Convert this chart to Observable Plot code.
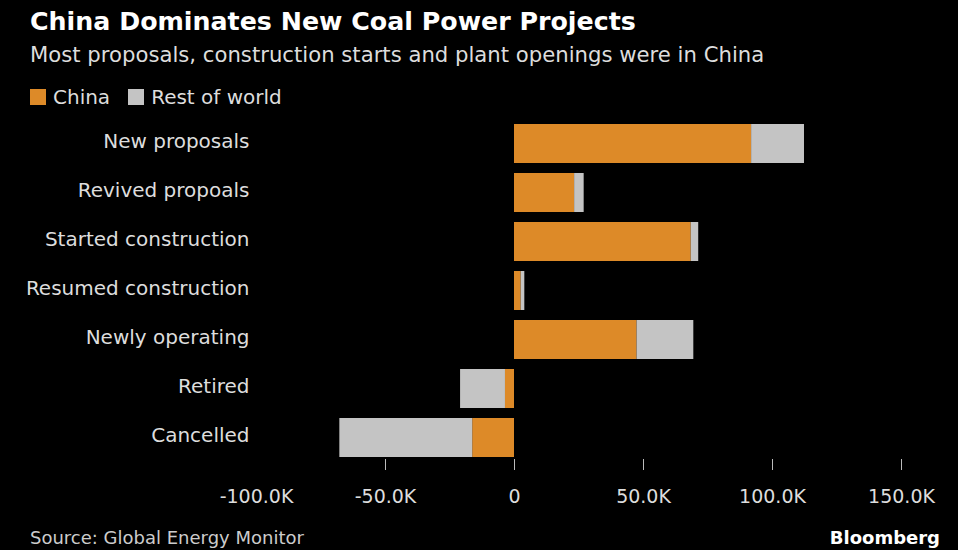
<!DOCTYPE html>
<html>
<head>
<meta charset="utf-8">
<script src="https://cdn.jsdelivr.net/npm/d3@7"></script>
<script src="https://cdn.jsdelivr.net/npm/@observablehq/plot@0.6"></script>
<style>
  html, body { margin: 0; padding: 0; background: #000; }
  body { width: 958px; height: 550px; overflow: hidden; font-family: "DejaVu Sans", sans-serif; color: #ddd; position: relative; }
  #title { position: absolute; left: 30px; top: 7px; font-size: 25.3px; font-weight: bold; color: #fff; white-space: nowrap; }
  #subtitle { position: absolute; left: 30px; top: 42px; font-size: 21.2px; color: #ddd; white-space: nowrap; }
  #legend { position: absolute; left: 30px; top: 85px; font-size: 20px; color: #ddd; display: flex; align-items: center; white-space: nowrap; }
  #legend .sw { display: inline-block; width: 16px; height: 16px; margin-right: 7px; }
  #legend .item { display: flex; align-items: center; margin-right: 18px; }
  #chart { position: absolute; left: 0; top: 112px; }
  #source { position: absolute; left: 30px; top: 527px; font-size: 18px; line-height: 21px; color: #ccc; white-space: nowrap; }
  #brand { position: absolute; right: 18px; top: 527px; font-size: 18px; line-height: 21px; font-weight: bold; color: #fff; }
</style>
</head>
<body>
<div id="title">China Dominates New Coal Power Projects</div>
<div id="subtitle">Most proposals, construction starts and plant openings were in China</div>
<div id="legend"></div>
<div id="chart"></div>
<div id="source">Source: Global Energy Monitor</div>
<div id="brand">Bloomberg</div>
<script>
const categories = ["New proposals", "Revived propoals", "Started construction", "Resumed construction", "Newly operating", "Retired", "Cancelled"];
const seriesNames = ["China", "Rest of world"];
const seriesColors = ["#dd8a28", "#c4c4c4"];
const chinaValues = [91900, 23300, 68500, 2600, 47500, -3500, -16200];
const restOfWorldValues = [20500, 3700, 2900, 1400, 22000, -17400, -51500];
const tickValues = [-100000, -50000, 0, 50000, 100000, 150000];
const tickLineValues = [-50000, 0, 50000, 100000, 150000];

const rows = [];
categories.forEach((c, i) => {
  rows.push({category: c, series: seriesNames[0], value: chinaValues[i]});
  rows.push({category: c, series: seriesNames[1], value: restOfWorldValues[i]});
});

const legend = document.getElementById("legend");
seriesNames.forEach((s, i) => {
  const item = document.createElement("span");
  item.className = "item";
  const sw = document.createElement("span");
  sw.className = "sw";
  sw.style.background = seriesColors[i];
  item.appendChild(sw);
  item.appendChild(document.createTextNode(s));
  legend.appendChild(item);
});

const fmt = d => d === 0 ? "0" : (d / 1000).toFixed(1) + "K";

const chart = Plot.plot({
  width: 958,
  height: 400,
  marginLeft: 256,
  marginRight: 57,
  marginTop: 10,
  marginBottom: 53,
  style: { background: "transparent", color: "#ddd", fontFamily: "DejaVu Sans, sans-serif", fontSize: "20px" },
  x: { domain: [-100000, 150000] },
  y: { domain: categories, paddingInner: 0.2, paddingOuter: 0 },
  color: { domain: seriesNames, range: seriesColors },
  marks: [
    Plot.barX(rows, Plot.stackX({ y: "category", x: "value", fill: "series", order: seriesNames })),
    Plot.axisY({ tickSize: 0, tickPadding: 7, label: null, fontSize: 20, dy: -2, color: "#ddd" }),
    Plot.axisX({ ticks: tickLineValues, tickSize: 11, text: null, label: null, stroke: "#bbb" }),
    Plot.axisX({ ticks: tickValues, tickSize: 0, tickPadding: 30, tickFormat: fmt, label: null, fontSize: 19, color: "#ddd" })
  ]
});
document.getElementById("chart").appendChild(chart);
</script>
</body>
</html>
